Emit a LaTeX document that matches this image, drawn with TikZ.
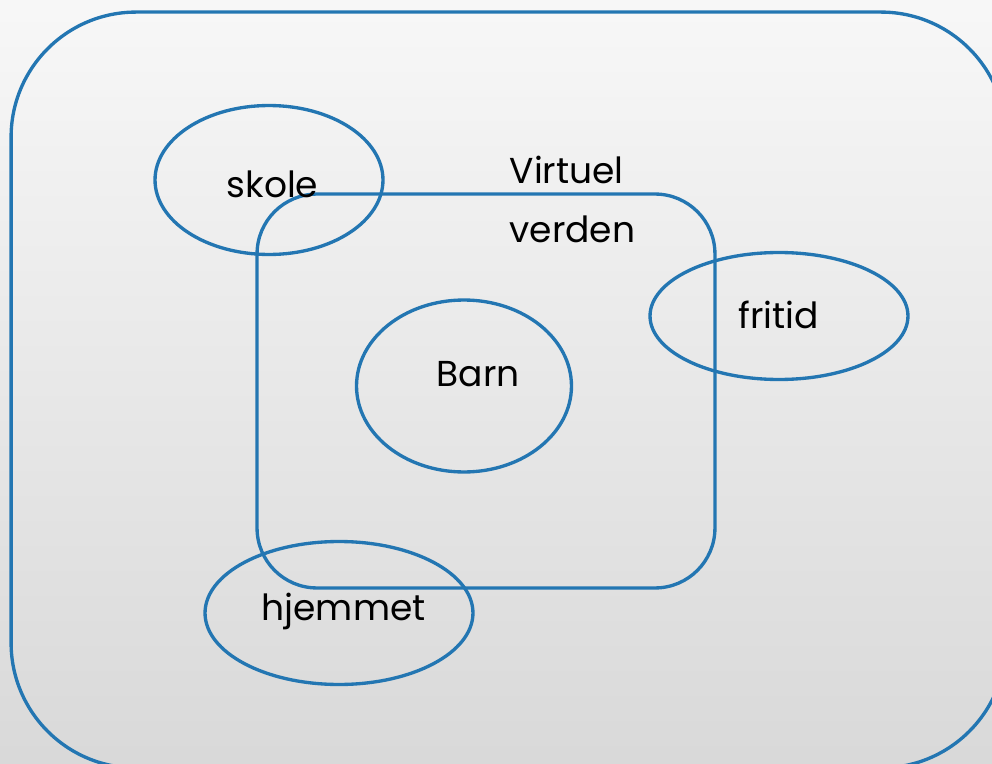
\documentclass[tikz,border=0pt]{standalone}
\usepackage{fontspec}
\setmainfont{Poppins}
\usetikzlibrary{shapes.geometric, positioning}
\definecolor{ringblue}{RGB}{35,118,178}

\begin{document}
\begin{tikzpicture} [ x=0.02cm
                    , y=-0.02cm
                    , line width=1.9pt
                    , font=\fontsize{20.5}{26}\selectfont
                    , ring/.style={draw=ringblue, ellipse, inner sep=0pt}
                    , frame/.style={draw=ringblue, rectangle, inner sep=0pt}
                    , word/.style={anchor=base west, inner sep=0pt, text=black}
                    ]

  % --- Page ------------------------------------------------------------------
  \useasboundingbox (0,0) rectangle (992,764);
  \clip (0,0) rectangle (992,764);
  \shade [top color=black!3, bottom color=black!15] (0,0) rectangle (992,764);
  % ---------------------------------------------------------------------------

  % --- Frames ----------------------------------------------------------------
  \node [ frame
        , rounded corners=2.5cm
        , minimum width=19.9cm
        , minimum height=15.12cm
        ]
        (World) at (508.5,390) {};

  \node [ frame
        , rounded corners=1.2cm
        , minimum width=9.16cm
        , minimum height=7.88cm
        ]
        (Virtual) at (486,391) {};

  \node [ word
        , align=left
        , font=\fontsize{20.5}{33.5}\selectfont
        ]
        (VirtualText) at (508,242) {Virtuel\\verden};
  % ---------------------------------------------------------------------------

  % --- Rings -----------------------------------------------------------------
  \node [ ring
        , minimum width=4.56cm
        , minimum height=2.98cm
        ]
        (School) at (269,180) {};

  \node [ word ] (SchoolText) at (225,197) {skole};

  \node [ ring
        , minimum width=5.16cm
        , minimum height=2.54cm
        ]
        (Leisure) at (779,316) {};

  \node [ word ] (LeisureText) at (737,328) {fritid};

  \node [ ring
        , minimum width=4.30cm
        , minimum height=3.44cm
        ]
        (Child) at (464,386) {};

  \node [ word ] (ChildText) at (435,386) {Barn};

  \node [ ring
        , minimum width=5.36cm
        , minimum height=2.86cm
        ]
        (Home) at (339,613) {};

  \node [ word ] (HomeText) at (260,620) {hjemmet};
  % ---------------------------------------------------------------------------
\end{tikzpicture}
\end{document}
